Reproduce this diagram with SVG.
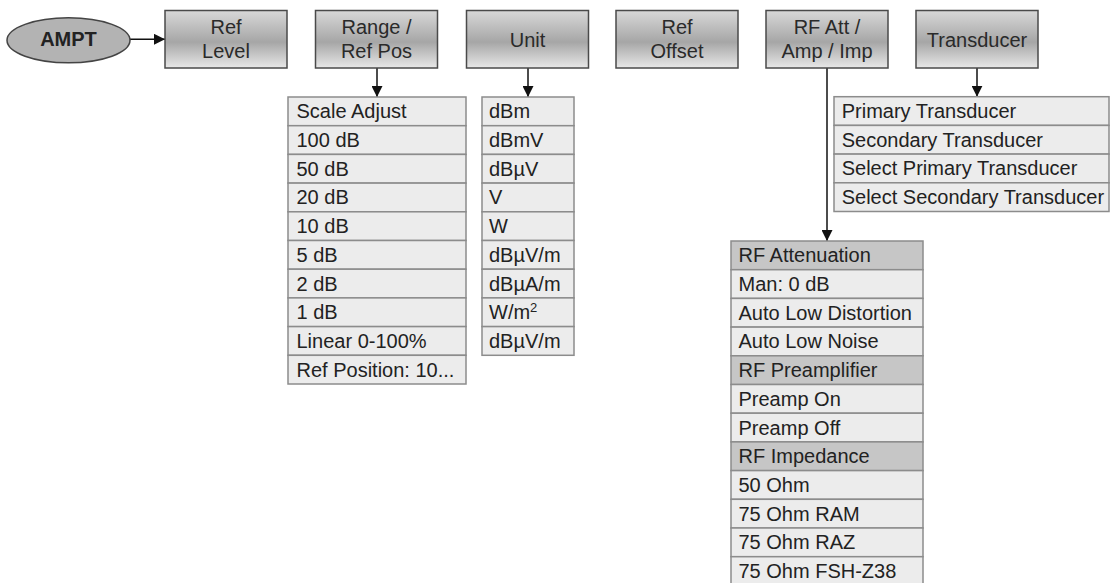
<svg xmlns="http://www.w3.org/2000/svg" width="1111" height="583" viewBox="0 0 1111 583">
  <style>
    text { font-family: "Liberation Sans", Arial, sans-serif; font-size: 20px; fill: #222; }
    .btn { fill: url(#btnGrad); stroke: #4a4a4a; stroke-width: 1.5; }
    .btn-t { text-anchor: middle; fill: #2a2a2a; }
    .row { fill: #ececec; stroke: #8c8c8c; stroke-width: 1.5; }
    .hdr { fill: #c6c6c6; stroke: #8c8c8c; stroke-width: 1.5; }
    .conn { stroke: #111; stroke-width: 1.5; fill: none; }
  </style>
  <defs>
    <linearGradient id="btnGrad" x1="0" y1="0" x2="0" y2="1">
      <stop offset="0" stop-color="#d8d8d8"/>
      <stop offset="0.55" stop-color="#a6a6a6"/>
      <stop offset="1" stop-color="#e8e8e8"/>
    </linearGradient>
    <marker id="arrow" viewBox="0 0 10 10" refX="10" refY="5" markerWidth="7" markerHeight="7" markerUnits="userSpaceOnUse" orient="auto">
      <path d="M0,0 L10,5 L0,10 Z" fill="#111"/>
    </marker>
    <marker id="arrowL" viewBox="0 0 10 10" refX="10" refY="5" markerWidth="11" markerHeight="11" markerUnits="userSpaceOnUse" orient="auto">
      <path d="M0,0 L10,5 L0,10 Z" fill="#111"/>
    </marker>
  </defs>

  <rect width="1111" height="583" fill="#ffffff"/>

  <!-- connectors -->
  <g id="connectors">
    <line class="conn" x1="130" y1="39.3" x2="165" y2="39.3" marker-end="url(#arrowL)"/>
    <line class="conn" x1="377" y1="68" x2="377" y2="97" marker-end="url(#arrowL)"/>
    <line class="conn" x1="528" y1="68" x2="528" y2="97" marker-end="url(#arrowL)"/>
    <line class="conn" x1="977" y1="68" x2="977" y2="96.7" marker-end="url(#arrowL)"/>
    <line class="conn" x1="827" y1="68" x2="827" y2="241" marker-end="url(#arrowL)"/>
  </g>

  <!-- root key -->
  <g id="ampt">
    <ellipse cx="68.5" cy="40.3" rx="61.5" ry="22.5" fill="#b3b3b3" stroke="#444" stroke-width="1.5"/>
    <text x="68.5" y="45.5" text-anchor="middle" font-weight="bold" fill="#222">AMPT</text>
  </g>

  <!-- softkeys -->
  <g id="ref-level">
    <rect class="btn" x="165" y="10.5" width="122" height="57.5"/>
    <text class="btn-t" x="226" y="34.3">Ref</text>
    <text class="btn-t" x="226" y="58.3">Level</text>
  </g>
  <g id="range-ref-pos">
    <rect class="btn" x="315.5" y="10.5" width="122" height="57.5"/>
    <text class="btn-t" x="376.5" y="34.3">Range /</text>
    <text class="btn-t" x="376.5" y="58.3">Ref Pos</text>
  </g>
  <g id="unit">
    <rect class="btn" x="466.5" y="10.5" width="122" height="57.5"/>
    <text class="btn-t" x="527.5" y="46.5">Unit</text>
  </g>
  <g id="ref-offset">
    <rect class="btn" x="616" y="10.5" width="122" height="57.5"/>
    <text class="btn-t" x="677" y="34.3">Ref</text>
    <text class="btn-t" x="677" y="58.3">Offset</text>
  </g>
  <g id="rf-att">
    <rect class="btn" x="766" y="10.5" width="122" height="57.5"/>
    <text class="btn-t" x="827" y="34.3">RF Att /</text>
    <text class="btn-t" x="827" y="58.3">Amp / Imp</text>
  </g>
  <g id="transducer">
    <rect class="btn" x="916" y="10.5" width="122" height="57.5"/>
    <text class="btn-t" x="977" y="46.5">Transducer</text>
  </g>

  <!-- Range / Ref Pos menu -->
  <g id="range-menu">
    <rect class="row" x="288" y="97" width="178" height="28.7"/>
    <rect class="row" x="288" y="125.7" width="178" height="28.7"/>
    <rect class="row" x="288" y="154.4" width="178" height="28.7"/>
    <rect class="row" x="288" y="183.1" width="178" height="28.7"/>
    <rect class="row" x="288" y="211.8" width="178" height="28.7"/>
    <rect class="row" x="288" y="240.5" width="178" height="28.7"/>
    <rect class="row" x="288" y="269.2" width="178" height="28.7"/>
    <rect class="row" x="288" y="297.9" width="178" height="28.7"/>
    <rect class="row" x="288" y="326.6" width="178" height="28.7"/>
    <rect class="row" x="288" y="355.3" width="178" height="28.7"/>
    <text x="296.5" y="118.3">Scale Adjust</text>
    <text x="296.5" y="147">100 dB</text>
    <text x="296.5" y="175.7">50 dB</text>
    <text x="296.5" y="204.4">20 dB</text>
    <text x="296.5" y="233.1">10 dB</text>
    <text x="296.5" y="261.8">5 dB</text>
    <text x="296.5" y="290.5">2 dB</text>
    <text x="296.5" y="319.2">1 dB</text>
    <text x="296.5" y="347.9">Linear 0-100%</text>
    <text x="296.5" y="376.6">Ref Position: 10...</text>
  </g>

  <!-- Unit menu -->
  <g id="unit-menu">
    <rect class="row" x="482" y="97" width="92" height="28.7"/>
    <rect class="row" x="482" y="125.7" width="92" height="28.7"/>
    <rect class="row" x="482" y="154.4" width="92" height="28.7"/>
    <rect class="row" x="482" y="183.1" width="92" height="28.7"/>
    <rect class="row" x="482" y="211.8" width="92" height="28.7"/>
    <rect class="row" x="482" y="240.5" width="92" height="28.7"/>
    <rect class="row" x="482" y="269.2" width="92" height="28.7"/>
    <rect class="row" x="482" y="297.9" width="92" height="28.7"/>
    <rect class="row" x="482" y="326.6" width="92" height="28.7"/>
    <text x="489" y="118.3">dBm</text>
    <text x="489" y="147">dBmV</text>
    <text x="489" y="175.7">dBµV</text>
    <text x="489" y="204.4">V</text>
    <text x="489" y="233.1">W</text>
    <text x="489" y="261.8">dBµV/m</text>
    <text x="489" y="290.5">dBµA/m</text>
    <text x="489" y="319.2">W/m<tspan font-size="13" dy="-7">2</tspan></text>
    <text x="489" y="347.9">dBµV/m</text>
  </g>

  <!-- Transducer menu -->
  <g id="transducer-menu">
    <rect class="row" x="834" y="96.7" width="275" height="28.7"/>
    <rect class="row" x="834" y="125.4" width="275" height="28.7"/>
    <rect class="row" x="834" y="154.1" width="275" height="28.7"/>
    <rect class="row" x="834" y="182.8" width="275" height="28.7"/>
    <text x="841.7" y="118">Primary Transducer</text>
    <text x="841.7" y="146.7">Secondary Transducer</text>
    <text x="841.7" y="175.4">Select Primary Transducer</text>
    <text x="841.7" y="204.1">Select Secondary Transducer</text>
  </g>

  <!-- RF Att / Amp / Imp menu -->
  <g id="rf-menu">
    <rect class="hdr" x="731" y="241" width="192" height="28.7"/>
    <rect class="row" x="731" y="269.7" width="192" height="28.7"/>
    <rect class="row" x="731" y="298.4" width="192" height="28.7"/>
    <rect class="row" x="731" y="327.1" width="192" height="28.7"/>
    <rect class="hdr" x="731" y="355.8" width="192" height="28.7"/>
    <rect class="row" x="731" y="384.5" width="192" height="28.7"/>
    <rect class="row" x="731" y="413.2" width="192" height="28.7"/>
    <rect class="hdr" x="731" y="441.9" width="192" height="28.7"/>
    <rect class="row" x="731" y="470.6" width="192" height="28.7"/>
    <rect class="row" x="731" y="499.3" width="192" height="28.7"/>
    <rect class="row" x="731" y="528" width="192" height="28.7"/>
    <rect class="row" x="731" y="556.7" width="192" height="28.7"/>
    <text x="738.5" y="262.3">RF Attenuation</text>
    <text x="738.5" y="291">Man: 0 dB</text>
    <text x="738.5" y="319.7">Auto Low Distortion</text>
    <text x="738.5" y="348.4">Auto Low Noise</text>
    <text x="738.5" y="377.1">RF Preamplifier</text>
    <text x="738.5" y="405.8">Preamp On</text>
    <text x="738.5" y="434.5">Preamp Off</text>
    <text x="738.5" y="463.2">RF Impedance</text>
    <text x="738.5" y="491.9">50 Ohm</text>
    <text x="738.5" y="520.6">75 Ohm RAM</text>
    <text x="738.5" y="549.3">75 Ohm RAZ</text>
    <text x="738.5" y="578">75 Ohm FSH-Z38</text>
  </g>
</svg>
